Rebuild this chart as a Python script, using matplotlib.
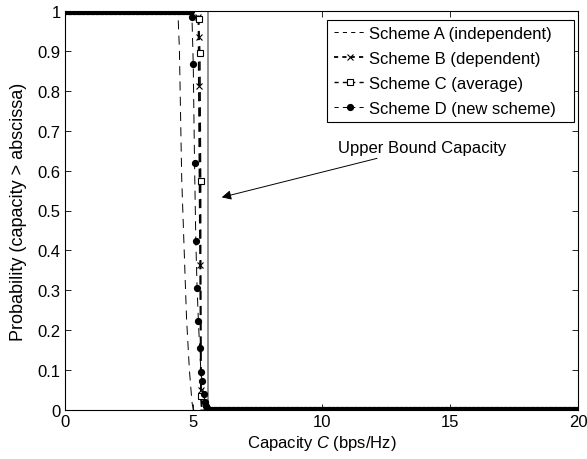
import numpy as np
import matplotlib
matplotlib.use("Agg")
import matplotlib.pyplot as plt
from matplotlib.patches import Rectangle

plt.rcParams['font.family'] = ['Liberation Sans', 'DejaVu Sans']
plt.rcParams['mathtext.fontset'] = 'custom'
plt.rcParams['mathtext.it'] = 'Liberation Sans:italic'
plt.rcParams['mathtext.rm'] = 'Liberation Sans'
plt.rcParams['lines.scale_dashes'] = False

# ---- data ----
# Scheme A (independent): no markers
A_x = [0, 4.40, 4.46, 4.55, 4.70, 4.74, 4.85, 4.95, 5.00, 20]
A_y = [1, 1, 0.905, 0.58, 0.30, 0.228, 0.10, 0.02, 0, 0]

# Scheme B (dependent)
B_x = [0, 5.17, 5.20, 5.21, 5.22, 5.27, 5.30, 5.33, 20]
B_y = [1, 1, 0.984, 0.935, 0.811, 0.364, 0.05, 0, 0]

# Scheme C (average)
C_x = [0, 5.18, 5.21, 5.26, 5.29, 5.30, 5.34, 20]
C_y = [1, 1, 0.98, 0.895, 0.575, 0.036, 0, 0]

# Scheme D (new scheme): sampled every 0.05 bps/Hz over [0, 20]
D_step = 0.05
D_drop_start = 4.95
D_drop_y = [0.984, 0.866, 0.620, 0.423, 0.306, 0.224, 0.155, 0.094, 0.072,
            0.040, 0.020, 0.010, 0.005]
D_high_value = 1.0
D_low_value = 0.0

upper_bound = 5.57

labels = ['Scheme A (independent)', 'Scheme B (dependent)',
          'Scheme C (average)', 'Scheme D (new scheme)']
xticks = [0, 5, 10, 15, 20]
yticks = [0, 0.1, 0.2, 0.3, 0.4, 0.5, 0.6, 0.7, 0.8, 0.9, 1]
ytick_labels = ['0', '0.1', '0.2', '0.3', '0.4', '0.5', '0.6', '0.7', '0.8', '0.9', '1']

# build the Scheme D grid
grid = np.round(np.arange(0, 20 + D_step / 2, D_step), 4)
n_high = int(round(D_drop_start / D_step))
n_drop = len(D_drop_y)
D_x = grid
D_y = np.concatenate([np.full(n_high, D_high_value), D_drop_y,
                      np.full(len(grid) - n_high - n_drop, D_low_value)])

fig = plt.figure(figsize=(5.87, 4.60), dpi=100)
ax = fig.add_axes([65 / 587, 1 - 411 / 460, (578 - 65) / 587, (411 - 12) / 460])

FS = 12
dash = (6.5, 4.5)
lA, = ax.plot(A_x, A_y, color='k', lw=0.7, dashes=dash, label=labels[0])
lB, = ax.plot(B_x, B_y, color='k', lw=1.3, dashes=dash, marker='x', ms=4,
              mew=0.8, markevery=slice(2, 7), label=labels[1])
lC, = ax.plot(C_x, C_y, color='k', lw=1.0, dashes=dash, marker='s', ms=4,
              mew=0.8, mfc='white', markevery=slice(2, 6), label=labels[2])
lD, = ax.plot(D_x, D_y, color='k', lw=0.7, dashes=dash, marker='o', ms=4.2,
              label=labels[3])

ax.axvline(upper_bound, color='#7f7f7f', lw=1.2, zorder=1)

ax.annotate('Upper Bound Capacity', xy=(6.11, 0.533), xytext=(10.64, 0.659),
            fontsize=FS, va='center', ha='left',
            arrowprops=dict(arrowstyle='-|>', color='k', lw=0.7,
                            mutation_scale=14, shrinkA=3, shrinkB=0))

ax.set_xlim(0, 20)
ax.set_ylim(0, 1)
ax.set_xticks(xticks)
ax.set_yticks(yticks)
ax.set_yticklabels(ytick_labels)
ax.tick_params(direction='in', top=True, right=True, labelsize=FS, length=4,
               width=0.6, pad=3)
for s in ax.spines.values():
    s.set_linewidth(0.8)
ax.set_xlabel('Capacity $C$ (bps/Hz)', fontsize=FS, labelpad=3)
ax.set_ylabel('Probability (capacity > abscissa)', fontsize=13, labelpad=8)

# legend frame (MATLAB style box with wide right margin)
ax.add_patch(Rectangle((0.5107, 0.7218), 0.9922 - 0.5107, 0.9774 - 0.7218,
                       transform=ax.transAxes, facecolor='white',
                       edgecolor='k', lw=0.8, zorder=5))
leg = ax.legend(loc='upper left', bbox_to_anchor=(0.525, 0.962),
                fontsize=FS, frameon=False, handlelength=1.85,
                labelspacing=0.6, borderaxespad=0.0, handletextpad=0.25,
                borderpad=0.0)
leg.set_zorder(6)
for h in leg.legend_handles:
    h.set_dashes((3, 3))

fig.savefig('out.png', dpi=100)
